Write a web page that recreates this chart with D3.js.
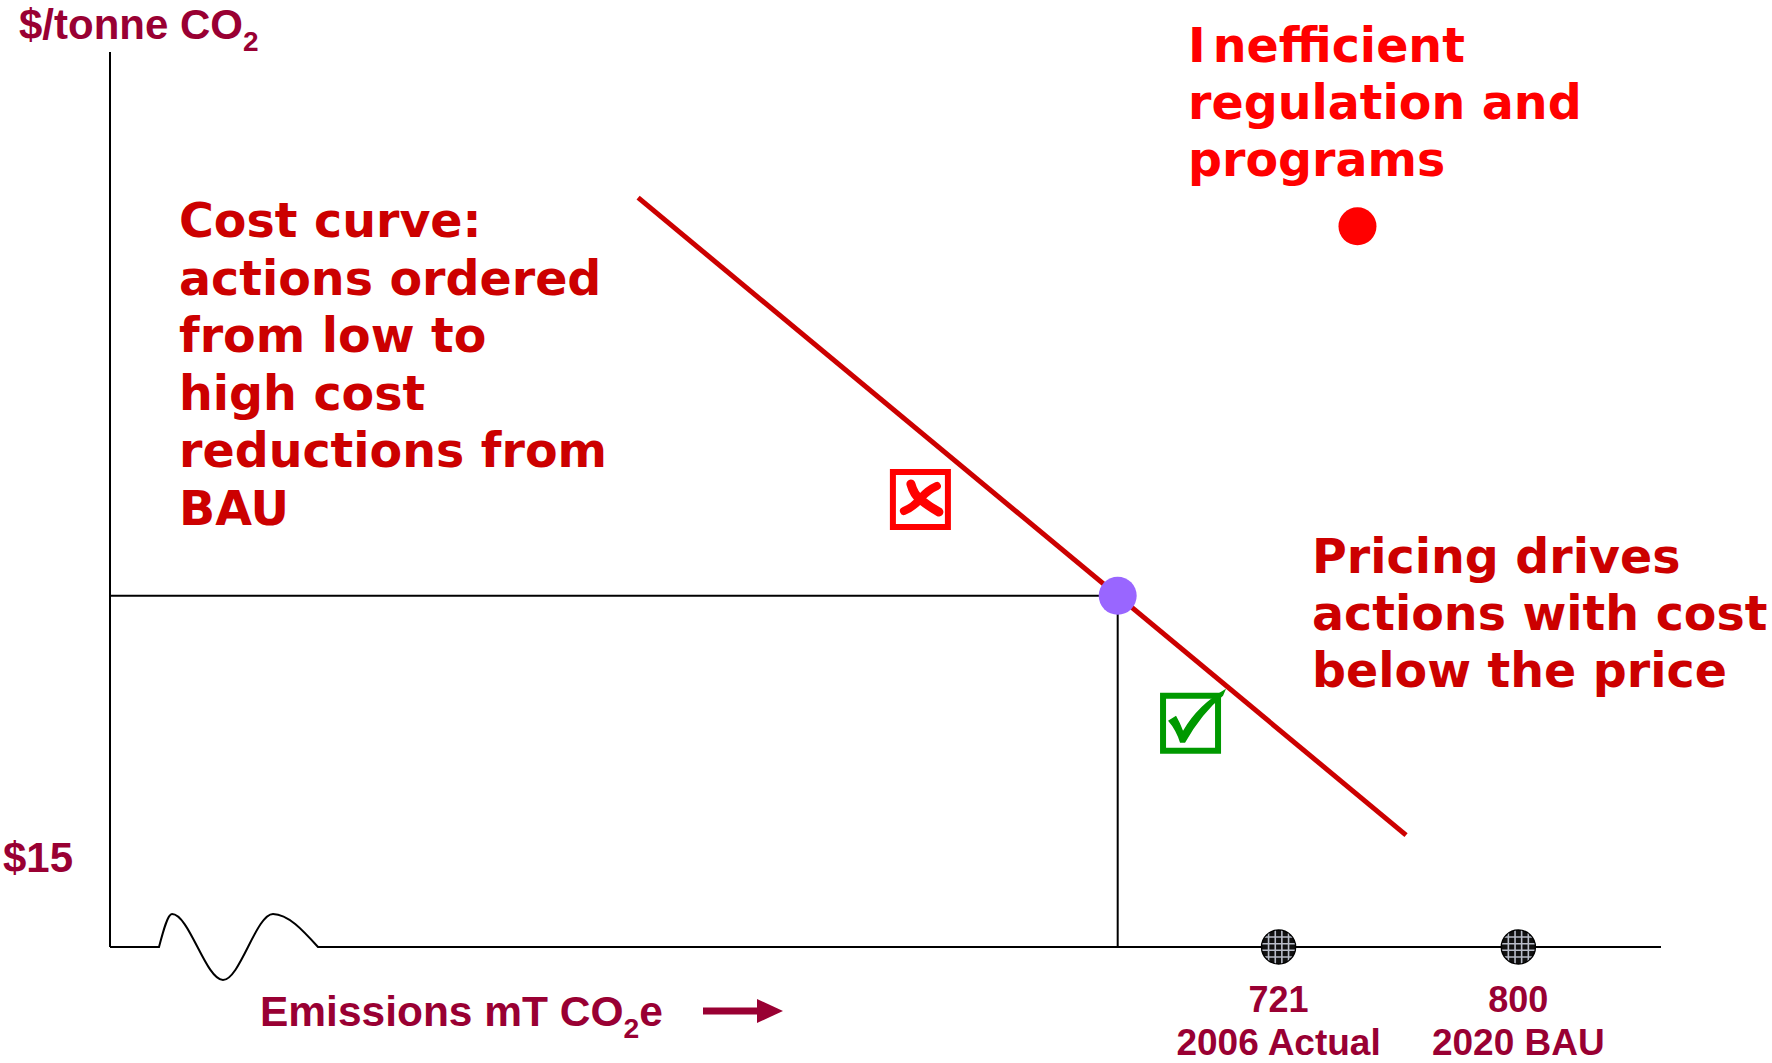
<!DOCTYPE html>
<html>
<head>
<meta charset="utf-8">
<script src="https://cdn.jsdelivr.net/npm/d3@7"></script>
<style>
  body { margin: 0; background: #fff; }
  svg { display: block; }
</style>
</head>
<body>
<div id="chart"></div>
<script>
// conceptual chart: emissions (mT CO2e) vs. price ($/tonne CO2)
var xDomain = [336, 847];
var yDomain = [11.5, 45.9];
var costCurve = [[510, 40.3], [763, 15.8]];
var pricePoint = [668, 25];
var inefficientPoint = [747, 39.2];
var markerValues = [721, 800];
var markerLabels = ["2006 Actual", "2020 BAU"];
var priceTick = 15;
var rejectBox = [603, 28.7];
var acceptBox = [692, 20.1];
var costText = ["Cost curve:", "actions ordered", "from low to", "high cost", "reductions from", "BAU"];
var ineffText = ["Inefficient", "regulation and", "programs"];
var pricingText = ["Pricing drives", "actions with cost", "below the price"];

var width = 1772,
    height = 1063;

var maroon = "#990033",
    darkRed = "#cc0000",
    brightRed = "#ff0000",
    green = "#009900";

var svg = d3.select("#chart")
  .append("svg")
    .attr("width", width)
    .attr("height", height);

var x = d3.scaleLinear().domain(xDomain).range([110, 1661]);
var y = d3.scaleLinear().domain(yDomain).range([947, 52]);

var x0 = x(xDomain[0]), yBase = y(yDomain[0]);

// y axis
svg.append("line")
  .attr("x1", x0).attr("x2", x0)
  .attr("y1", y(yDomain[1])).attr("y2", yBase)
  .attr("stroke", "#000").attr("stroke-width", 2);

// x axis with break squiggle
var breakPts = [[49, 0], [62, -33], [113, 33], [163, -33], [208, 0]];
var sq = d3.line().curve(d3.curveMonotoneX)
  .x(function(d) { return x0 + d[0]; })
  .y(function(d) { return yBase + d[1]; });
svg.append("path")
  .attr("d", "M" + x0 + "," + yBase + sq(breakPts).replace(/^M/, "L") + "L" + x(xDomain[1]) + "," + yBase)
  .attr("fill", "none")
  .attr("stroke", "#000").attr("stroke-width", 2);

// price lines
svg.append("path")
  .attr("d", "M" + x0 + "," + y(pricePoint[1]) + "H" + x(pricePoint[0]) + "V" + yBase)
  .attr("fill", "none")
  .attr("stroke", "#000").attr("stroke-width", 2);

// cost curve
svg.append("path")
  .datum(costCurve)
  .attr("d", d3.line().x(function(d) { return x(d[0]); }).y(function(d) { return y(d[1]); }))
  .attr("stroke", darkRed).attr("stroke-width", 5)
  .attr("fill", "none");

svg.append("circle")
  .attr("cx", x(pricePoint[0])).attr("cy", y(pricePoint[1]))
  .attr("r", 19).attr("fill", "#9966ff");

svg.append("circle")
  .attr("cx", x(inefficientPoint[0])).attr("cy", y(inefficientPoint[1]))
  .attr("r", 19).attr("fill", brightRed);

// hatched markers on the x axis
var defs = svg.append("defs");
defs.append("clipPath").attr("id", "mclip")
  .append("circle").attr("r", 16.5);

var mk = svg.selectAll(".marker")
  .data(markerValues)
  .enter().append("g")
    .attr("class", "marker")
    .attr("transform", function(d) { return "translate(" + x(d) + "," + yBase + ")"; });

mk.append("circle").attr("r", 17).attr("fill", "#111").attr("stroke", "#000").attr("stroke-width", 1.5);
var grid = mk.append("g").attr("clip-path", "url(#mclip)");
[-10, -3.3, 3.3, 10].forEach(function(o) {
  grid.append("line").attr("x1", o).attr("x2", o).attr("y1", -17).attr("y2", 17)
    .attr("stroke", "#b8bcc8").attr("stroke-width", 1.6);
  grid.append("line").attr("y1", o).attr("y2", o).attr("x1", -17).attr("x2", 17)
    .attr("stroke", "#b8bcc8").attr("stroke-width", 1.6);
});

mk.append("text")
  .attr("y", 65)
  .attr("text-anchor", "middle")
  .style("font", "bold 36px 'Liberation Sans', Arial, sans-serif")
  .attr("fill", maroon)
  .text(function(d) { return d; });

mk.append("text")
  .attr("y", 108)
  .attr("text-anchor", "middle")
  .style("font", "bold 37px 'Liberation Sans', Arial, sans-serif")
  .attr("fill", maroon)
  .text(function(d, i) { return markerLabels[i]; });

// axis labels
var yl = svg.append("text")
  .attr("x", 19).attr("y", 39)
  .style("font", "bold 42px 'Liberation Sans', Arial, sans-serif")
  .attr("fill", maroon);
yl.append("tspan").text("$/tonne CO");
yl.append("tspan").attr("dy", 12).style("font-size", "28px").text("2");

svg.append("text")
  .attr("x", 3).attr("y", y(priceTick) + 16)
  .style("font", "bold 42px 'Liberation Sans', Arial, sans-serif")
  .attr("fill", maroon)
  .text("$" + priceTick);

var xl = svg.append("text")
  .attr("x", 0).attr("y", 0)
  .style("font", "bold 42px 'Liberation Sans', Arial, sans-serif")
  .attr("fill", maroon);
xl.append("tspan").text("Emissions mT CO");
xl.append("tspan").attr("dy", 12).style("font-size", "28px").text("2");
xl.append("tspan").attr("dy", -12).text("e");
var xlw = xl.node().getComputedTextLength();
xl.attr("transform", "translate(260,1026) scale(" + (403 / xlw) + ",1)");

// arrow
svg.append("line")
  .attr("x1", 703).attr("x2", 760).attr("y1", 1011).attr("y2", 1011)
  .attr("stroke", maroon).attr("stroke-width", 7);
svg.append("path")
  .attr("d", "M757,999L783,1011L757,1023Z")
  .attr("fill", maroon);

// reject / accept boxes
var rb = svg.append("g")
  .attr("transform", "translate(" + (x(rejectBox[0]) - 30.5) + "," + (y(rejectBox[1]) - 30.5) + ")");
rb.append("rect").attr("x", 3).attr("y", 3).attr("width", 55).attr("height", 55)
  .attr("fill", "#fff").attr("stroke", brightRed).attr("stroke-width", 6);
rb.append("path")
  .attr("d", "M21,15 Q24,26 31,31 Q40,38 49,43")
  .attr("fill", "none").attr("stroke", brightRed).attr("stroke-width", 9).attr("stroke-linecap", "round");
rb.append("path")
  .attr("d", "M47,17 Q38,21 31,29 Q24,38 14,42")
  .attr("fill", "none").attr("stroke", brightRed).attr("stroke-width", 8).attr("stroke-linecap", "round");

var ab = svg.append("g")
  .attr("transform", "translate(" + (x(acceptBox[0]) - 30.5) + "," + (y(acceptBox[1]) - 30.5) + ")");
ab.append("rect").attr("x", 3).attr("y", 3).attr("width", 55).attr("height", 55)
  .attr("fill", "#fff").attr("stroke", green).attr("stroke-width", 6);
ab.append("path")
  .attr("d", "M8,28 L16,23 Q20,30 23,38 Q38,12 66,-4 L63,3 Q42,20 25,50 L20,50 Q16,37 8,28 Z")
  .attr("fill", green);

// annotation text blocks
function block(lines, px, py, color, lh) {
  var t = svg.append("text")
    .style("font", "bold 47.5px 'DejaVu Sans', Verdana, sans-serif")
    .attr("fill", color);
  lines.forEach(function(line, i) {
    if (line === "Inefficient") {
      // Verdana sets a wide gap after the capital I
      t.append("tspan").attr("x", px).attr("y", py + i * lh).text(line.charAt(0));
      t.append("tspan").attr("dx", 7).text(line.slice(1));
    } else {
      t.append("tspan").attr("x", px).attr("y", py + i * lh).text(line);
    }
  });
}

block(costText, 179, 237, darkRed, 57.5);
block(ineffText, 1188, 62, brightRed, 57);
block(pricingText, 1312, 573, darkRed, 57);
</script>
</body>
</html>
